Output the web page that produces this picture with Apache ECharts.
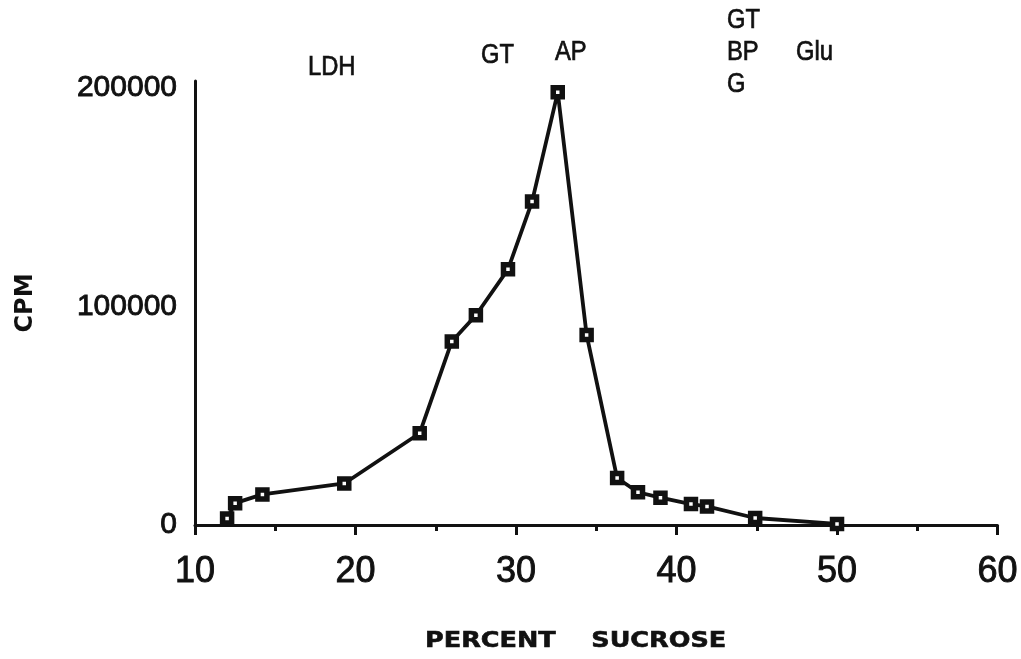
<!DOCTYPE html>
<html>
<head>
<meta charset="utf-8">
<script src="https://cdn.jsdelivr.net/npm/echarts@6/dist/echarts.min.js"></script>
<style>
  html, body { margin: 0; padding: 0; background: #fff; }
  #chart { width: 1021px; height: 659px; }
</style>
</head>
<body>
<div id="chart"></div>
<script>
// Gradient fractions: sucrose concentration (%) and radioactivity (CPM)
const sucrose = [12.0, 12.5, 14.2, 19.3, 24.0, 26.0, 27.5, 29.5, 31.0, 32.6, 34.4, 36.3, 37.6, 39.0, 40.9, 41.9, 44.9, 50.0];
const cpm = [3000, 10000, 14000, 19000, 42000, 84000, 96000, 117000, 148000, 198000, 87000, 21500, 15000, 12500, 9600, 8500, 3200, 500];

// Marker enzyme labels along the top of the gradient
const markerTexts = ['LDH', 'GT', 'AP', 'GT\nBP\nG', 'Glu'];

const ink = '#111';
const tickFont = "'Liberation Sans', Arial, Helvetica, sans-serif";

const chart = echarts.init(document.getElementById('chart'), null, { renderer: 'canvas' });

// condensed-looking annotation text
const marker = (text, x, y) => ({
  type: 'text',
  x: x,
  y: y,
  scaleX: 0.88,
  style: {
    text: text,
    fill: ink,
    stroke: ink,
    lineWidth: 0.7,
    font: "27px " + tickFont,
    lineHeight: 32
  }
});

chart.setOption({
  animation: false,
  backgroundColor: '#fff',
  grid: { left: 195, right: 22, top: 81, bottom: 134 },
  xAxis: {
    type: 'value',
    min: 10,
    max: 60,
    interval: 10,
    axisLine: { lineStyle: { color: ink, width: 3 } },
    axisTick: { show: true, length: 10, lineStyle: { color: ink, width: 3 } },
    minorTick: { show: true, splitNumber: 2, length: 6, lineStyle: { color: ink, width: 3 } },
    splitLine: { show: false },
    axisLabel: {
      color: ink, fontSize: 36, fontFamily: tickFont, margin: 29,
      textBorderColor: ink, textBorderWidth: 0.9
    }
  },
  yAxis: {
    type: 'value',
    min: 0,
    max: 203200,
    interval: 100000,
    name: 'CPM',
    nameLocation: 'middle',
    nameGap: 157,
    nameRotate: 90,
    nameTextStyle: { color: ink, fontSize: 24, fontWeight: 'bold', fontFamily: "'DejaVu Sans', sans-serif" },
    axisLine: { show: true, lineStyle: { color: ink, width: 3 } },
    axisTick: { show: false },
    splitLine: { show: false },
    axisLabel: {
      color: ink, fontSize: 30, fontFamily: tickFont, margin: 18, showMaxLabel: false,
      textBorderColor: ink, textBorderWidth: 0.9,
      formatter: (v) => String(v)
    }
  },
  series: [{
    type: 'line',
    data: sucrose.map((s, i) => [s, cpm[i]]),
    lineStyle: { color: ink, width: 3.8 },
    symbol: 'rect',
    symbolSize: 9,
    itemStyle: { color: '#fff', borderColor: ink, borderWidth: 5.5 },
    z: 3
  }],
  graphic: [
    marker(markerTexts[0], 308, 52),
    marker(markerTexts[1], 481, 40),
    marker(markerTexts[2], 555, 37),
    marker(markerTexts[3], 727, 5),
    marker(markerTexts[4], 796, 37),
    {
      type: 'text',
      x: 425,
      y: 630,
      scaleX: 1.16,
      style: {
        text: 'PERCENT    SUCROSE',
        fill: ink,
        stroke: ink,
        lineWidth: 0.6,
        font: "bold 22px 'DejaVu Sans', sans-serif"
      }
    }
  ]
});
</script>
</body>
</html>
